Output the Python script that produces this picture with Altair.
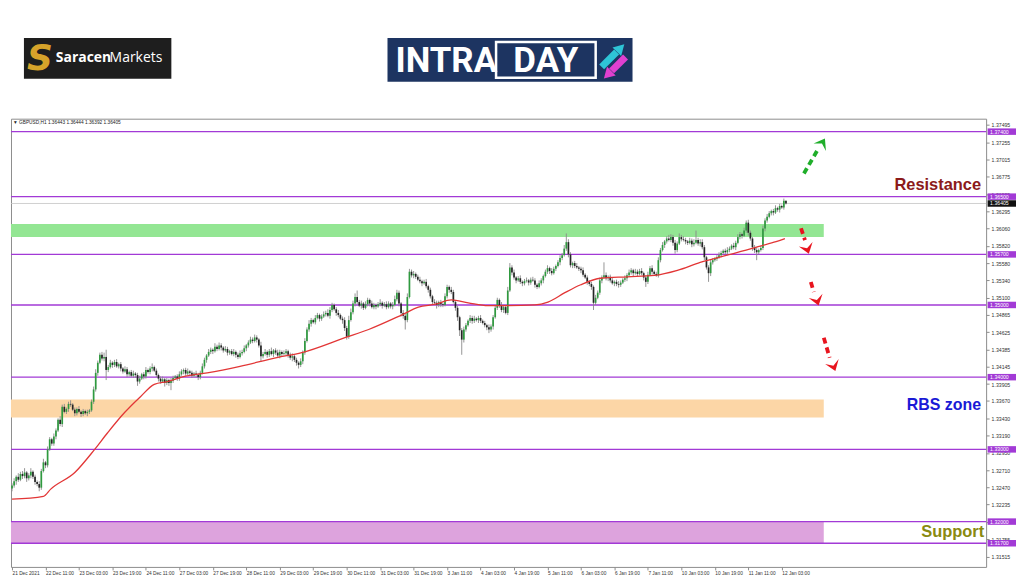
import altair as alt
import pandas as pd

# ---------------- data ----------------
# hourly closes, bar 0 = 21 Dec 2021 ... bar 370 = 12 Jan 06:00
CLOSE = [
    1.3250, 1.3256, 1.3262, 1.3258, 1.3266, 1.3263, 1.3268, 1.3260, 1.3264, 1.3269,
    1.3262, 1.3255, 1.3252, 1.3247, 1.3270, 1.3282, 1.3278, 1.3300, 1.3314, 1.3308,
    1.3318, 1.3326, 1.3341, 1.3335, 1.3359, 1.3352, 1.3356, 1.3363, 1.3362, 1.3355,
    1.3350, 1.3356, 1.3352, 1.3349, 1.3353, 1.3350, 1.3352, 1.3354, 1.3366, 1.3383,
    1.3406, 1.3420, 1.3431, 1.3426, 1.3428, 1.3410, 1.3414, 1.3420, 1.3417, 1.3421,
    1.3415, 1.3418, 1.3412, 1.3408, 1.3411, 1.3404, 1.3407, 1.3402, 1.3405, 1.3403,
    1.3394, 1.3398, 1.3404, 1.3401, 1.3410, 1.3407, 1.3412, 1.3414, 1.3409, 1.3403,
    1.3398, 1.3394, 1.3397, 1.3392, 1.3396, 1.3392, 1.3395, 1.3399, 1.3401, 1.3398,
    1.3404, 1.3408, 1.3410, 1.3405, 1.3408, 1.3406, 1.3402, 1.3405, 1.3403, 1.3400,
    1.3406, 1.3415, 1.3424, 1.3430, 1.3435, 1.3438, 1.3436, 1.3442, 1.3439, 1.3444,
    1.3441, 1.3437, 1.3439, 1.3434, 1.3436, 1.3432, 1.3435, 1.3431, 1.3428, 1.3433,
    1.3435, 1.3440, 1.3444, 1.3448, 1.3452, 1.3450, 1.3455, 1.3452, 1.3444, 1.3429,
    1.3432, 1.3435, 1.3431, 1.3436, 1.3432, 1.3437, 1.3434, 1.3430, 1.3435, 1.3432,
    1.3433, 1.3436, 1.3431, 1.3427, 1.3429, 1.3424, 1.3420, 1.3417, 1.3422, 1.3434,
    1.3450, 1.3466, 1.3474, 1.3479, 1.3476, 1.3482, 1.3486, 1.3481, 1.3484, 1.3487,
    1.3489, 1.3485, 1.3493, 1.3500, 1.3494, 1.3489, 1.3486, 1.3481, 1.3479, 1.3468,
    1.3456, 1.3479, 1.3490, 1.3502, 1.3511, 1.3504, 1.3499, 1.3502, 1.3496, 1.3501,
    1.3507, 1.3502, 1.3497, 1.3500, 1.3498, 1.3501, 1.3503, 1.3499, 1.3501, 1.3497,
    1.3502, 1.3498, 1.3500, 1.3508, 1.3517, 1.3502, 1.3489, 1.3485, 1.3479, 1.3511,
    1.3546, 1.3541, 1.3543, 1.3539, 1.3535, 1.3533, 1.3530, 1.3532, 1.3526, 1.3521,
    1.3512, 1.3504, 1.3503, 1.3500, 1.3504, 1.3501, 1.3500, 1.3512, 1.3525, 1.3521,
    1.3518, 1.3504, 1.3496, 1.3483, 1.3465, 1.3452, 1.3466, 1.3472, 1.3478, 1.3482,
    1.3478, 1.3481, 1.3479, 1.3482, 1.3478, 1.3475, 1.3472, 1.3469, 1.3466, 1.3470,
    1.3483, 1.3496, 1.3507, 1.3500, 1.3493, 1.3497, 1.3489, 1.3520, 1.3552, 1.3545,
    1.3538, 1.3534, 1.3537, 1.3532, 1.3530, 1.3533, 1.3534, 1.3531, 1.3535, 1.3534,
    1.3528, 1.3525, 1.3530, 1.3534, 1.3540, 1.3546, 1.3551, 1.3547, 1.3544, 1.3550,
    1.3554, 1.3559, 1.3565, 1.3569, 1.3578, 1.3587, 1.3570, 1.3555, 1.3558, 1.3554,
    1.3552, 1.3550, 1.3548, 1.3542, 1.3538, 1.3532, 1.3529, 1.3525, 1.3503, 1.3510,
    1.3517, 1.3534, 1.3538, 1.3541, 1.3537, 1.3539, 1.3534, 1.3530, 1.3532, 1.3529,
    1.3528, 1.3531, 1.3535, 1.3537, 1.3541, 1.3545, 1.3548, 1.3544, 1.3546, 1.3543,
    1.3547, 1.3544, 1.3538, 1.3532, 1.3542, 1.3551, 1.3546, 1.3543, 1.3541, 1.3562,
    1.3576, 1.3583, 1.3588, 1.3592, 1.3590, 1.3594, 1.3586, 1.3576, 1.3585, 1.3594,
    1.3591, 1.3590, 1.3588, 1.3586, 1.3589, 1.3584, 1.3586, 1.3590, 1.3585, 1.3587,
    1.3580, 1.3566, 1.3552, 1.3544, 1.3559, 1.3562, 1.3564, 1.3566, 1.3569, 1.3572,
    1.3575, 1.3573, 1.3576, 1.3578, 1.3582, 1.3580, 1.3586, 1.3594, 1.3598, 1.3596,
    1.3603, 1.3614, 1.3600, 1.3592, 1.3580, 1.3576, 1.3573, 1.3576, 1.3579, 1.3606,
    1.3617, 1.3622, 1.3627, 1.3630, 1.3628, 1.3634, 1.3632, 1.3637, 1.3635, 1.36443,
    1.36405,
]
FIRST_OPEN = 1.3246

# wick lengths in pips above / below the body of each candle
UPPER_WICK_PIPS = [
    3, 4, 2, 5, 3, 4, 6, 2, 3, 5,
    2, 3, 2, 4, 3, 5, 2, 4, 3, 2,
    4, 3, 2, 5, 3, 4, 2, 3, 5, 2,
    3, 2, 4, 2, 3, 2, 3, 2, 3, 4,
    5, 3, 3, 4, 6, 10, 3, 4, 2, 3,
    4, 2, 3, 2, 4, 3, 2, 3, 4, 2,
    3, 4, 2, 3, 4, 2, 3, 5, 2, 3,
    2, 3, 4, 2, 3, 2, 4, 3, 2, 3,
    4, 3, 2, 3, 4, 2, 3, 2, 4, 3,
    3, 4, 3, 2, 4, 3, 2, 5, 3, 4,
    3, 2, 4, 3, 2, 3, 4, 2, 3, 4,
    3, 4, 2, 3, 4, 3, 4, 3, 2, 5,
    3, 4, 2, 3, 5, 2, 3, 4, 3, 2,
    4, 3, 2, 3, 4, 2, 3, 2, 4, 3,
    4, 3, 5, 3, 2, 4, 3, 2, 3, 4,
    3, 5, 4, 3, 2, 3, 4, 2, 3, 4,
    3, 6, 5, 4, 5, 9, 3, 4, 2, 4,
    3, 2, 4, 3, 2, 3, 5, 2, 3, 4,
    3, 2, 4, 5, 4, 3, 2, 4, 3, 5,
    4, 3, 4, 2, 3, 4, 2, 3, 4, 2,
    3, 2, 4, 3, 2, 3, 2, 4, 3, 2,
    4, 3, 2, 3, 2, 3, 4, 3, 2, 4,
    3, 4, 2, 3, 4, 2, 3, 2, 4, 3,
    3, 4, 3, 2, 4, 3, 2, 5, 6, 3,
    4, 2, 3, 4, 2, 3, 4, 2, 3, 4,
    3, 2, 4, 3, 2, 3, 4, 2, 4, 3,
    2, 3, 4, 3, 5, 12, 4, 3, 2, 3,
    4, 2, 3, 4, 2, 3, 2, 3, 2, 4,
    3, 4, 3, 18, 4, 2, 3, 4, 2, 3,
    4, 3, 2, 4, 3, 4, 3, 2, 4, 3,
    3, 4, 2, 3, 4, 3, 4, 2, 3, 4,
    3, 4, 2, 3, 5, 4, 3, 4, 3, 5,
    3, 4, 3, 2, 4, 3, 5, 13, 3, 4,
    4, 3, 2, 3, 4, 3, 2, 3, 4, 3,
    2, 3, 4, 3, 2, 4, 3, 4, 3, 2,
    4, 3, 4, 3, 2, 3, 4, 2, 3, 4,
    3, 4, 3, 2, 3, 4, 2, 3, 2, 3,
    0.1,
]
LOWER_WICK_PIPS = [
    4, 3, 5, 3, 2, 4, 3, 5, 3, 4,
    3, 4, 3, 5, 3, 2, 4, 3, 2, 3,
    3, 4, 2, 3, 4, 2, 3, 4, 3, 2,
    4, 3, 2, 4, 3, 2, 4, 3, 2, 3,
    3, 4, 2, 3, 4, 14, 3, 2, 4, 3,
    2, 3, 4, 3, 2, 4, 3, 2, 3, 4,
    6, 3, 2, 4, 3, 2, 3, 4, 2, 3,
    4, 3, 2, 5, 3, 4, 10, 3, 2, 3,
    3, 2, 4, 3, 2, 4, 3, 2, 3, 4,
    3, 2, 3, 4, 2, 3, 4, 2, 3, 2,
    4, 3, 2, 4, 3, 2, 3, 4, 3, 2,
    3, 2, 4, 3, 2, 3, 2, 4, 3, 8,
    3, 2, 4, 3, 2, 4, 3, 2, 4, 3,
    2, 3, 4, 3, 5, 3, 4, 5, 3, 4,
    3, 2, 3, 4, 2, 3, 2, 4, 3, 2,
    3, 2, 4, 3, 2, 4, 3, 2, 5, 4,
    4, 3, 2, 3, 4, 3, 2, 4, 3, 2,
    3, 4, 2, 3, 4, 2, 3, 4, 2, 3,
    2, 3, 4, 2, 3, 4, 5, 4, 13, 3,
    2, 3, 4, 3, 2, 3, 4, 2, 3, 4,
    3, 4, 2, 5, 3, 4, 3, 2, 3, 4,
    3, 2, 4, 5, 8, 21, 4, 3, 2, 3,
    4, 3, 2, 4, 3, 2, 3, 4, 5, 3,
    4, 2, 3, 4, 3, 4, 2, 3, 2, 4,
    3, 4, 2, 3, 4, 3, 2, 4, 3, 2,
    4, 3, 2, 3, 4, 2, 3, 4, 3, 2,
    3, 2, 4, 3, 2, 3, 4, 3, 4, 3,
    2, 3, 4, 3, 2, 4, 3, 4, 10, 3,
    2, 3, 4, 2, 3, 4, 3, 2, 4, 3,
    4, 3, 2, 3, 4, 2, 3, 4, 2, 3,
    2, 3, 4, 7, 3, 2, 4, 3, 2, 3,
    3, 2, 4, 3, 2, 3, 4, 5, 3, 2,
    3, 2, 4, 3, 2, 4, 3, 2, 3, 4,
    3, 4, 3, 12, 4, 3, 2, 3, 2, 3,
    2, 3, 4, 3, 2, 3, 4, 2, 3, 4,
    2, 3, 4, 3, 5, 4, 11, 3, 2, 3,
    4, 3, 2, 3, 4, 2, 3, 4, 2, 3,
    1.3,
]
PIP = 0.0001

# 50-period moving average (bar index, value)
MA_BAR = [0, 15, 18.5, 30, 39.5, 45.7, 53.8, 61.4, 68, 74.3, 82.4, 93.3, 109, 126.6,
          138.5, 159.5, 170.5, 186.2, 194.3, 202.4, 210, 218.1, 227.6, 237.1, 250,
          256.2, 264.3, 271.9, 281.4, 294.3, 307.1, 318.1, 329, 341.9, 354.7, 364.3, 369.5]
MA_VAL = [1.3231, 1.3235, 1.3245, 1.3268, 1.3300, 1.3323, 1.3351, 1.3373, 1.3390, 1.3394,
          1.3401, 1.3406, 1.3415, 1.3427, 1.3434, 1.3455, 1.3466, 1.3486, 1.3497, 1.3501,
          1.3507, 1.3503, 1.3499, 1.3499, 1.3500, 1.3504, 1.3517, 1.3528, 1.3537, 1.3539,
          1.3541, 1.3548, 1.3559, 1.3569, 1.3579, 1.3587, 1.3592]

X_LABELS = ["21 Dec 2021", "22 Dec 11:00", "23 Dec 03:00", "23 Dec 19:00", "24 Dec 11:00",
            "27 Dec 03:00", "27 Dec 19:00", "28 Dec 11:00", "29 Dec 03:00", "29 Dec 19:00",
            "30 Dec 11:00", "31 Dec 03:00", "31 Dec 19:00", "3 Jan 11:00", "4 Jan 03:00",
            "4 Jan 19:00", "5 Jan 11:00", "6 Jan 03:00", "6 Jan 19:00", "7 Jan 11:00",
            "10 Jan 03:00", "10 Jan 19:00", "11 Jan 11:00", "12 Jan 03:00"]
LABEL_STEP = 16

Y_TICKS = [1.37495, 1.37255, 1.37015, 1.36775, 1.36535, 1.36295, 1.36060, 1.35820,
           1.35580, 1.35340, 1.35100, 1.34865, 1.34625, 1.34385, 1.34145, 1.33905,
           1.33670, 1.33430, 1.33190, 1.32950, 1.32710, 1.32470, 1.32235, 1.31995,
           1.31755, 1.31515]

LEVELS = [1.374, 1.365, 1.357, 1.350, 1.340, 1.330, 1.320, 1.317]
BID = 1.36405
ZONE_LOW = [1.3594, 1.3344, 1.3170]
ZONE_HIGH = [1.3612, 1.3369, 1.3200]

ARROW_TAIL_BAR = [378.6, 377.2, 381.9, 388.1]
ARROW_TAIL_PRICE = [1.36821, 1.36062, 1.35317, 1.34545]
ARROW_DASH_BAR = [385.6, 379.1, 383.3, 390.9]
ARROW_DASH_PRICE = [1.37170, 1.35897, 1.35179, 1.34269]
ARROW_HEAD_BAR = [387.4, 380.2, 384.9, 392.8]
ARROW_HEAD_PRICE = [1.37245, 1.35775, 1.35060, 1.34150]

HEADER = "\u25bc GBPUSD,H1  1.36443 1.36444 1.36392 1.36405"

# ---------------- styles ----------------
W, H = 979, 450
PURPLE = "#a23ad6"
ZONE_COLORS = ["#93e693", "#fcd6a6", "#dda3dd"]
ZONE_RIGHT_PX = 816
ARROW_COLORS = ["#1fae2a", "#e8141e", "#e8141e", "#e8141e"]
ARROW_ANGLES = [211, 342, 343, 340]
ARROW_HEAD = "M-1,-0.7L0,0.7L1,-0.7L0,-0.1Z"
FONT = "Liberation Sans"

assert len(CLOSE) == len(UPPER_WICK_PIPS) == len(LOWER_WICK_PIPS)

opens = [FIRST_OPEN] + CLOSE[:-1]
highs = [max(o, c) + u * PIP for o, c, u in zip(opens, CLOSE, UPPER_WICK_PIPS)]
lows = [min(o, c) - l * PIP for o, c, l in zip(opens, CLOSE, LOWER_WICK_PIPS)]
candles = pd.DataFrame({"bar": list(range(len(CLOSE))), "open": opens, "close": CLOSE,
                        "high": highs, "low": lows})

XS = alt.Scale(domain=[-0.5, 465.7], nice=False, zero=False)
YS = alt.Scale(domain=[1.313725, 1.375794], nice=False, zero=False)
labels_js = "[" + ",".join("'" + s + "'" for s in X_LABELS) + "]"
x_axis = alt.Axis(values=[i * LABEL_STEP for i in range(len(X_LABELS))],
                  labelExpr=labels_js + "[round(datum.value / %d)]" % LABEL_STEP,
                  labelAlign="left", labelFontSize=4.8, labelFont=FONT, labelColor="#333333",
                  tickSize=3, tickColor="#8c8c8c", labelPadding=1, domain=False, grid=False,
                  title=None, labelOverlap=False, labelFlush=False)
y_axis = alt.Axis(orient="right", values=Y_TICKS, format=".5f", labelFontSize=5.2,
                  labelFont=FONT, labelColor="#333333", tickSize=3, tickColor="#8c8c8c",
                  labelPadding=2, domain=False, grid=False, title=None, labelOverlap=False)


def X(f):
    return alt.X(f, type="quantitative", scale=XS, axis=x_axis)


def Y(f):
    return alt.Y(f, type="quantitative", scale=YS, axis=y_axis)


one = pd.DataFrame({"k": [0]})
layers = []

# zones
for lo, hi, col in zip(ZONE_LOW, ZONE_HIGH, ZONE_COLORS):
    zdf = pd.DataFrame({"low": [lo], "high": [hi]})
    layers.append(alt.Chart(zdf).mark_rect(color=col).encode(
        x=alt.value(0), x2=alt.value(ZONE_RIGHT_PX), y=Y("low"), y2=alt.Y2("high")))

# bid line
layers.append(alt.Chart(pd.DataFrame({"price": [BID]})).mark_rule(
    color="#c4c4c4", strokeWidth=0.8).encode(y=Y("price")))

# level lines
lvl_df = pd.DataFrame({"price": LEVELS, "label": ["%.5f" % v for v in LEVELS]})
layers.append(alt.Chart(lvl_df).mark_rule(color=PURPLE, strokeWidth=1.4).encode(y=Y("price")))

# candles
cbase = alt.Chart(candles)
layers.append(cbase.mark_rule(color="#8a8a8a", strokeWidth=0.9).encode(
    x=X("bar"), y=Y("low"), y2=alt.Y2("high")))
layers.append(cbase.transform_filter("datum.close >= datum.open").mark_rule(
    color="#2f9a3f", strokeWidth=1.7).encode(x=X("bar"), y=Y("open"), y2=alt.Y2("close")))
layers.append(cbase.transform_filter("datum.close < datum.open").mark_rule(
    color="#262626", strokeWidth=1.7).encode(x=X("bar"), y=Y("open"), y2=alt.Y2("close")))

# moving average
ma_df = pd.DataFrame({"bar": MA_BAR, "price": MA_VAL})
layers.append(alt.Chart(ma_df).mark_line(color="#e23636", strokeWidth=1.3,
                                         interpolate="monotone").encode(x=X("bar"), y=Y("price")))

# arrows
for k in range(len(ARROW_TAIL_BAR)):
    adf = pd.DataFrame({"bar": [ARROW_TAIL_BAR[k]], "price": [ARROW_TAIL_PRICE[k]],
                        "bar2": [ARROW_DASH_BAR[k]], "price2": [ARROW_DASH_PRICE[k]]})
    layers.append(alt.Chart(adf).mark_rule(color=ARROW_COLORS[k], strokeWidth=3.8,
                                           strokeDash=[6, 4]).encode(
        x=X("bar"), y=Y("price"), x2=alt.X2("bar2"), y2=alt.Y2("price2")))
    hdf = pd.DataFrame({"bar": [ARROW_HEAD_BAR[k]], "price": [ARROW_HEAD_PRICE[k]]})
    layers.append(alt.Chart(hdf).mark_point(shape=ARROW_HEAD, filled=True, size=210,
                                            color=ARROW_COLORS[k], opacity=1,
                                            angle=ARROW_ANGLES[k]).encode(x=X("bar"), y=Y("price")))

# annotations
for txt, col, xx, yy, fs in [("Resistance", "#8b1a1a", 974, 67, 16.5),
                             ("RBS zone", "#1a1ad6", 974, 287, 16),
                             ("Support", "#8a8a10", 977, 415, 16.5)]:
    layers.append(alt.Chart(one).mark_text(align="right", baseline="middle", font=FONT,
                                           fontWeight="bold", fontSize=fs, color=col).encode(
        x=alt.value(xx), y=alt.value(yy), text=alt.value(txt)))

layers.append(alt.Chart(one).mark_text(align="left", baseline="middle", font=FONT,
                                       fontSize=4.8, color="#222222").encode(
    x=alt.value(2), y=alt.value(4), text=alt.value(HEADER)))

# price labels on the right axis
layers.append(alt.Chart(lvl_df).mark_rule(color=PURPLE, strokeWidth=6.5).encode(
    y=Y("price"), x=alt.value(980.5), x2=alt.value(1009)))
layers.append(alt.Chart(lvl_df).mark_text(align="left", baseline="middle", font=FONT,
                                          fontSize=5.2, color="white").encode(
    y=Y("price"), x=alt.value(983), text="label:N"))
bid_df = pd.DataFrame({"price": [BID], "label": ["%.5f" % BID]})
layers.append(alt.Chart(bid_df).mark_rule(color="#111111", strokeWidth=6.5).encode(
    y=Y("price"), x=alt.value(980.5), x2=alt.value(1009)))
layers.append(alt.Chart(bid_df).mark_text(align="left", baseline="middle", font=FONT,
                                          fontSize=5.2, color="white").encode(
    y=Y("price"), x=alt.value(983), text="label:N"))

# logos (positions relative to plot origin)
layers.append(alt.Chart(one).mark_rect(color="#1e1e1e").encode(
    x=alt.value(13), x2=alt.value(161), y=alt.value(-81), y2=alt.value(-40)))
layers.append(alt.Chart(one).mark_text(align="center", baseline="middle", font="DejaVu Sans",
                                       fontWeight="bold", fontStyle="italic", fontSize=36,
                                       color="#d6a32a").encode(
    x=alt.value(29), y=alt.value(-60), text=alt.value("S")))
layers.append(alt.Chart(one).mark_text(align="left", baseline="middle", font="Open Sans",
                                       fontWeight="bold", fontSize=14, color="white").encode(
    x=alt.value(45), y=alt.value(-61), text=alt.value("Saracen")))
layers.append(alt.Chart(one).mark_text(align="left", baseline="middle", font="Open Sans",
                                       fontSize=14, color="white").encode(
    x=alt.value(99), y=alt.value(-61), text=alt.value("Markets")))

layers.append(alt.Chart(one).mark_rect(color="#1d3461").encode(
    x=alt.value(378), x2=alt.value(624), y=alt.value(-81), y2=alt.value(-37)))
layers.append(alt.Chart(one).mark_rect(fill="#1d3461", stroke="white", strokeWidth=2.5).encode(
    x=alt.value(487), x2=alt.value(587), y=alt.value(-77), y2=alt.value(-41)))
layers.append(alt.Chart(one).mark_text(align="left", baseline="middle", font="Roboto",
                                       fontWeight="bold", fontSize=35, color="white").encode(
    x=alt.value(386), y=alt.value(-58), text=alt.value("INTRA")))
layers.append(alt.Chart(one).mark_text(align="center", baseline="middle", font="Roboto",
                                       fontWeight="bold", fontSize=35, color="white").encode(
    x=alt.value(537), y=alt.value(-58), text=alt.value("DAY")))
layers.append(alt.Chart(one).mark_rule(color="#2ec4d6", strokeWidth=7).encode(
    x=alt.value(593), y=alt.value(-52), x2=alt.value(608), y2=alt.value(-67)))
layers.append(alt.Chart(one).mark_point(shape="triangle-up", filled=True, size=150, angle=45,
                                        color="#2ec4d6", opacity=1).encode(
    x=alt.value(612), y=alt.value(-71)))
layers.append(alt.Chart(one).mark_rule(color="#e040d0", strokeWidth=7).encode(
    x=alt.value(617), y=alt.value(-62), x2=alt.value(603), y2=alt.value(-48)))
layers.append(alt.Chart(one).mark_point(shape="triangle-up", filled=True, size=150, angle=225,
                                        color="#e040d0", opacity=1).encode(
    x=alt.value(599), y=alt.value(-44)))

chart = alt.layer(*layers).properties(
    width=W, height=H,
    padding={"left": 3, "top": 110, "right": 30, "bottom": 10},
    autosize=alt.AutoSizeParams(type="none"),
    background="white",
).configure_view(stroke="#8c8c8c", strokeWidth=1)

chart.save("out.html", embed_options={"renderer": "svg", "actions": False})
